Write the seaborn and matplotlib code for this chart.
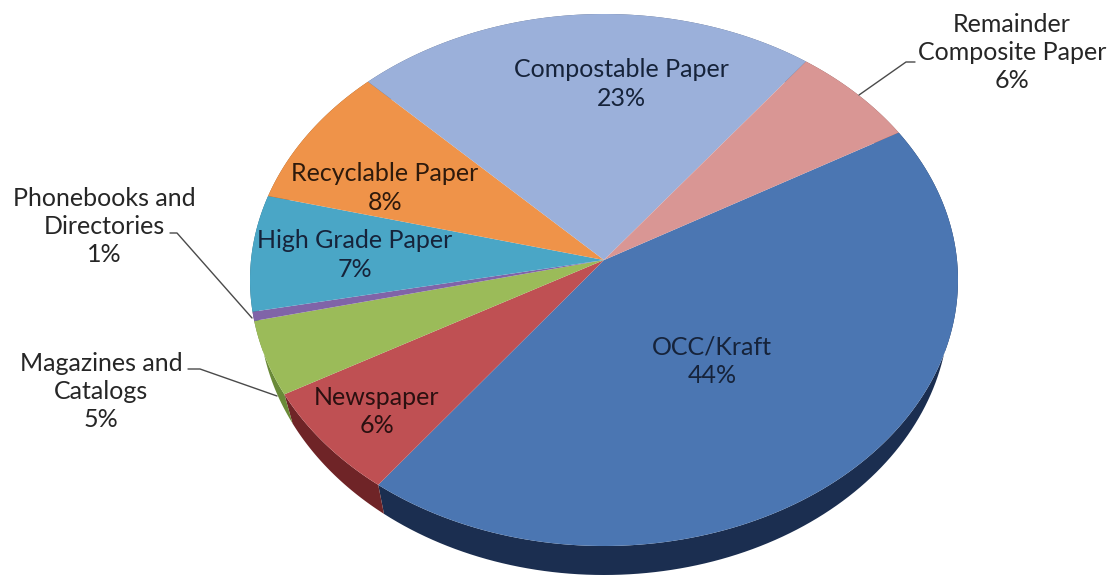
import numpy as np
import matplotlib
matplotlib.use("Agg")
import matplotlib.pyplot as plt
from matplotlib.path import Path
from matplotlib.transforms import Transform
import seaborn as sns

# ---- data -------------------------------------------------------------
categories = ["OCC/Kraft", "Newspaper", "Magazines and\nCatalogs",
              "Phonebooks and\nDirectories", "High Grade Paper",
              "Recyclable Paper", "Compostable Paper",
              "Remainder\nComposite Paper"]
shares = [43.6, 6.6, 4.5, 0.55, 7.05, 8.6, 22.8, 6.3]
percent_labels = ["44%", "6%", "5%", "1%", "7%", "8%", "23%", "6%"]
top_colors = ["#4b76b2", "#bf5053", "#9bbb59", "#8064a8", "#4aa6c6",
              "#ef9349", "#9bb0da", "#d99694"]
wall_colors = ["#1b2e50", "#6f2427", "#6a8a38", "#4d3c66", "#2c6478",
               "#8f5526", "#5d6a83", "#825a59"]

sns.set_theme(style="white")
plt.rcParams["font.family"] = ["Lato", "DejaVu Sans"]

fig = plt.figure(figsize=(11.11, 5.75), dpi=100)
ax = fig.add_axes([0, 0, 1, 1])


class TiltedDisc(Transform):
    """Perspective view of the unit pie disc, expressed in canvas pixels."""
    input_dims = output_dims = 2
    TILT = 0.075

    def __init__(self, cx, cy, rx, ry):
        super().__init__()
        self.cx, self.cy, self.rx, self.ry = cx, cy, rx, ry

    def transform_non_affine(self, xy):
        xy = np.asarray(xy, float)
        b = self.TILT
        d = 1 + b * xy[:, 1]
        u = xy[:, 0] * np.sqrt(1 - b * b) / d
        v = (xy[:, 1] + b) / d
        return np.column_stack([self.cx + self.rx * u, self.cy - self.ry * v])

    def transform_path_non_affine(self, path):
        pts, codes = [], []
        for curve, code in path.iter_bezier():
            if code == Path.MOVETO:
                pts.append(curve.control_points[0])
                codes.append(Path.MOVETO)
            else:
                t = np.linspace(0, 1, 40)[1:]
                smp = curve(t)
                pts.extend(smp)
                codes.extend([Path.LINETO] * len(smp))
        return Path(self.transform_non_affine(np.array(pts)), codes)


top_disc = TiltedDisc(604, 280, 354, 266)
low_disc = TiltedDisc(604, 309, 345, 266)

wedges, _ = ax.pie(shares, startangle=30, counterclock=False,
                   colors=sns.color_palette(top_colors), frame=False,
                   wedgeprops=dict(linewidth=0, zorder=3))
ax.set_aspect("auto")
ax.set_xlim(0, 1111)
ax.set_ylim(575, 0)
ax.set_axis_off()

for wedge, wall in zip(wedges, wall_colors):
    wedge.set_transform(top_disc + ax.transData)
    # side wall, extruded from the wedge's own arc
    ang = np.radians(np.linspace(wedge.theta1, wedge.theta2, 120))
    rim = np.column_stack([np.cos(ang), np.sin(ang)])
    band = np.vstack([top_disc.transform_non_affine(rim),
                      low_disc.transform_non_affine(rim)[::-1]])
    ax.fill(band[:, 0], band[:, 1], color=wall, lw=0, zorder=2)

inside = "#16233a"
outside = "#262626"
FS = 18
label_pos = {
    "OCC/Kraft": (712, 361.5, inside),
    "Newspaper": (377, 411.5, "#2a1010"),
    "Magazines and\nCatalogs": (101, 391.5, outside),
    "Phonebooks and\nDirectories": (104, 226.5, outside),
    "High Grade Paper": (355, 255, inside),
    "Recyclable Paper": (385, 188, "#2e1a0c"),
    "Compostable Paper": (621, 84, inside),
    "Remainder\nComposite Paper": (1012, 52.5, outside),
}
for name, pct in zip(categories, percent_labels):
    x, y, c = label_pos[name]
    ax.text(x, y, f"{name}\n{pct}", ha="center", va="center", fontsize=FS,
            color=c, linespacing=1.27, zorder=5)

leaders = [([859, 906, 915], [95, 62, 62]),
           ([252, 177, 170], [318, 233, 233]),
           ([277, 200, 188], [396, 369, 369])]
for lx, ly in leaders:
    ax.plot(lx, ly, color="#4a4a4a", lw=1.0, zorder=4)

fig.savefig("out.png", dpi=100, facecolor="white")
